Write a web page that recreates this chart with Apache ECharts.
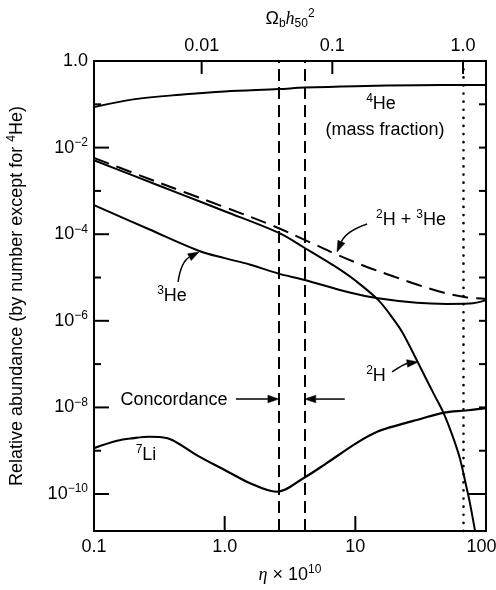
<!DOCTYPE html>
<html><head><meta charset="utf-8">
<script src="https://cdn.jsdelivr.net/npm/echarts@6/dist/echarts.min.js"></script>
<style>html,body{margin:0;padding:0;background:#fff}#c{width:496px;height:590px}</style>
</head><body><div id="c"></div>
<script>
const FONT = "'Liberation Sans', Arial, Helvetica, sans-serif";

// ---- axes ----
const etaRange = [0.1, 100];            // eta x 10^10
const yRange = [1.4e-11, 1];            // relative abundance
const omegaPerEta = 0.015;              // Omega_b h50^2 per unit eta_10
const bottomTickLabels = { '-1': '0.1', '0': '1.0', '1': '10', '2': '100' };
const topTickLabels = { '-2': '0.01', '-1': '0.1', '0': '1.0' };
const etaTicks = [1, 10];
const omegaTicks = [0.01, 0.1, 1];
const yTickExps = [0, -1, -2, -3, -4, -5, -6, -7, -8, -9, -10];
const concordance = [2.6, 4.1];
const omegaUnityEta = 1 / omegaPerEta;

// ---- curves [eta, abundance] ----
const he4 = [[0.1,0.086],[0.2,0.13],[0.5,0.17],[1,0.198],[2.6,0.225],[4.1,0.243],[10,0.262],[30,0.276],[68,0.28],[100,0.279]];
const dPlusHe3 = [[0.1,5.8e-3],[0.2,2.6e-3],[0.5,9.2e-4],[1,4.2e-4],[2.3,1.6e-4],[4.5,6.5e-5],[7.2,3.4e-5],[12,1.8e-5],[19.4,1.07e-5],[30,6.8e-6],[47,4.5e-6],[70,3.5e-6],[100,3.2e-6]];
const deuterium = [[0.1,5.1e-3],[0.2,2.26e-3],[0.5,7.7e-4],[1,3.4e-4],[2.6,1.07e-4],[4.1,4.8e-5],[7,1.8e-5],[10,8.5e-6],[15,3.0e-6],[20,1.0e-6],[23,5.3e-7],[30,1.12e-7],[40,2.0e-8],[47,7.8e-9],[55,2.36e-9],[63,6.8e-10],[70,1.7e-10],[75,6.6e-11],[82.5,1.4e-11]];
const he3 = [[0.1,4.7e-4],[0.264,1.3e-4],[0.64,4.1e-5],[1,2.8e-5],[1.55,2.0e-5],[2.58,1.23e-5],[4.03,8.9e-6],[9.06,4.5e-6],[14.9,3.3e-6],[29.6,2.6e-6],[50,2.45e-6],[75,2.5e-6],[100,3.0e-6]];
const li7 = [[0.1,1.15e-9],[0.15,1.7e-9],[0.2,1.95e-9],[0.264,2.1e-9],[0.33,2.05e-9],[0.4,1.75e-9],[0.64,7.3e-10],[1,3.6e-10],[1.55,1.8e-10],[2.5,1.13e-10],[4.03,2.35e-10],[6,5.1e-10],[10.2,1.5e-9],[15,2.8e-9],[21.9,4.0e-9],[30,5.2e-9],[46.9,7.5e-9],[70,8.5e-9],[100,9.6e-9]];

// ---- annotation arrows (data coordinates) ----
const arrows = [
  { from: [12.3, 1.72e-4], to: [7.24, 3.9e-5], bend: 0.22 },     // 2H + 3He
  { from: [0.44, 7.9e-6], to: [0.637, 3.9e-5], bend: -0.25 },    // 3He
  { from: [19.1, 6.6e-8], to: [30.2, 1.12e-7], bend: -0.12 },    // 2H
  { from: [1.22, 1.56e-8], to: [concordance[0], 1.56e-8], bend: 0 },
  { from: [8.3, 1.56e-8], to: [concordance[1], 1.56e-8], bend: 0 }
];

function decade(v) {
  const l = Math.log10(v);
  const e = Math.round(l);
  return Math.abs(l - e) < 0.01 ? e : null;
}
const supRich = {
  n: { fontSize: 18, lineHeight: 22, fontFamily: FONT, color: '#000' },
  s: { fontSize: 12, lineHeight: 12, verticalAlign: 'top', fontFamily: FONT, color: '#000' },
  b: { fontSize: 12, lineHeight: 12, verticalAlign: 'bottom', fontFamily: FONT, color: '#000' },
  i: { fontSize: 18, lineHeight: 22, fontStyle: 'italic', fontFamily: "'Liberation Serif', 'DejaVu Serif', serif", color: '#000' },
  r: { fontSize: 18, lineHeight: 22, fontFamily: FONT, color: '#000', padding: [0, 9, 0, 0] }
};
const blackLine = { color: '#000', width: 2 };
const noTick = { show: false };

const lineBase = { type: 'line', showSymbol: false, symbol: 'none', smooth: 0.35, silent: true };

const option = {
  animation: false,
  backgroundColor: '#fff',
  grid: { left: 94, right: 10, top: 61, bottom: 59, containLabel: false, outerBoundsMode: 'none' },
  xAxis: [
    {
      type: 'log', position: 'bottom', min: etaRange[0], max: etaRange[1],
      axisLine: { show: true, lineStyle: blackLine }, axisTick: noTick,
      axisLabel: {
        show: true, margin: 5, fontSize: 18, fontFamily: FONT, color: '#000', rich: supRich,
        formatter: v => { const e = decade(v); if (e === null || bottomTickLabels[e] === undefined) return ''; return e === 2 ? '{r|' + bottomTickLabels[e] + '}' : '{n|' + bottomTickLabels[e] + '}'; }
      },
      splitLine: { show: false },
      name: '{i|η}{n| × 10}{s|10}', nameLocation: 'middle', nameGap: 33, nameMoveOverlap: false,
      nameTextStyle: { fontSize: 18, fontFamily: FONT, color: '#000', rich: supRich }
    },
    {
      type: 'log', position: 'top', min: etaRange[0] * omegaPerEta, max: etaRange[1] * omegaPerEta,
      axisLine: { show: true, lineStyle: blackLine }, axisTick: noTick,
      axisLabel: {
        show: true, margin: 4, fontSize: 18, fontFamily: FONT, color: '#000', rich: supRich,
        formatter: v => { const e = decade(v); if (e === null || topTickLabels[e] === undefined) return ''; return '{n|' + topTickLabels[e] + '}'; }
      },
      splitLine: { show: false },
      name: '{n|Ω}{b|b}{i|h}{b|50}{s|2}', nameLocation: 'middle', nameGap: 31, nameMoveOverlap: false,
      nameTextStyle: { fontSize: 18, fontFamily: FONT, color: '#000', rich: supRich }
    }
  ],
  yAxis: [
    {
      type: 'log', logBase: 100, position: 'left', min: yRange[0], max: yRange[1],
      axisLine: { show: true, lineStyle: blackLine }, axisTick: noTick,
      axisLabel: {
        show: true, margin: 6, fontSize: 18, fontFamily: FONT, color: '#000', rich: supRich,
        formatter: v => { const e = decade(v); if (e === null) return ''; return e === 0 ? '{n|1.0}' : '{n|10}{s|−' + (-e) + '}'; }
      },
      splitLine: { show: false }, minorTick: { show: false },
      name: '{n|Relative abundance (by number except for }{s|4}{n|He)}', nameLocation: 'middle', nameGap: 66, nameMoveOverlap: false,
      nameTextStyle: { fontSize: 18, fontFamily: FONT, color: '#000', rich: supRich }
    },
    {
      type: 'log', logBase: 100, position: 'right', min: yRange[0], max: yRange[1],
      axisLine: { show: true, lineStyle: blackLine }, axisTick: noTick, axisLabel: { show: false },
      splitLine: { show: false }, minorTick: { show: false }
    }
  ],
  series: [
    Object.assign({}, lineBase, {
      name: '4He', data: he4, lineStyle: { color: '#000', width: 2 },
      markLine: {
        silent: true, symbol: 'none', animation: false, label: { show: false },
        data: [
          { xAxis: concordance[0], lineStyle: { color: '#000', width: 2, type: [12, 6] } },
          { xAxis: concordance[1], lineStyle: { color: '#000', width: 2, type: [12, 6] } },
          { xAxis: omegaUnityEta, lineStyle: { color: '#000', width: 2.6, type: [0.1, 8], cap: 'round' } }
        ]
      }
    }),
    Object.assign({}, lineBase, { name: '2H + 3He', data: dPlusHe3, lineStyle: { color: '#000', width: 2, type: [16, 8] } }),
    Object.assign({}, lineBase, { name: '2H', data: deuterium, lineStyle: { color: '#000', width: 2 } }),
    Object.assign({}, lineBase, { name: '3He', data: he3, lineStyle: { color: '#000', width: 2 } }),
    Object.assign({}, lineBase, { name: '7Li', data: li7, lineStyle: { color: '#000', width: 2.2 } })
  ]
};

const texts = [
  [381, 104, '{s|4}{n|He}'],
  [385, 130, '{n|(mass fraction)}'],
  [411, 220, '{s|2}{n|H + }{s|3}{n|He}'],
  [172, 296, '{s|3}{n|He}'],
  [376, 376, '{s|2}{n|H}'],
  [174, 400, '{n|Concordance}'],
  [146, 455, '{s|7}{n|Li}']
];

const chart = echarts.init(document.getElementById('c'));
chart.setOption(option);

const toPx = p => chart.convertToPixel({ seriesIndex: 0 }, p);
const g = [];
let gid = 0;
function tick(x1, y1, x2, y2) {
  g.push({ type: 'line', id: 'k' + (gid++), silent: true, shape: { x1: x1, y1: y1, x2: x2, y2: y2 }, style: { stroke: '#000', lineWidth: 2 } });
}
// axis ticks placed through the axes' scales
const leftX = toPx([etaRange[0], 1])[0], rightX = toPx([etaRange[1], 1])[0];
const topY = toPx([1, yRange[1]])[1], bottomY = toPx([1, yRange[0]])[1];
yTickExps.forEach(e => {
  const y = toPx([1, Math.pow(10, e)])[1];
  tick(leftX, y, leftX + (e % 2 === 0 ? 15 : 7), y);
  tick(rightX, y, rightX - (e === -10 ? 18 : 7), y);
});
etaTicks.forEach(v => { const x = toPx([v, 1])[0]; tick(x, bottomY, x, bottomY - 15); });
omegaTicks.forEach(o => { const x = toPx([o / omegaPerEta, 1])[0]; tick(x, topY, x, topY + 13); });

texts.forEach((t, i) => g.push({ type: 'text', id: 't' + i, x: t[0], y: t[1], silent: true,
  style: { text: t[2], rich: supRich, align: 'center', verticalAlign: 'middle', fill: '#000' } }));
arrows.forEach((a, i) => {
  const p0 = toPx(a.from), p1 = toPx(a.to);
  const dx = p1[0] - p0[0], dy = p1[1] - p0[1];
  const cx = (p0[0] + p1[0]) / 2 - dy * a.bend, cy = (p0[1] + p1[1]) / 2 + dx * a.bend;
  let tx = p1[0] - cx, ty = p1[1] - cy; const tl = Math.hypot(tx, ty); tx /= tl; ty /= tl;
  const hl = 11, hw = 3.8;
  const bx = p1[0] - tx * hl, by = p1[1] - ty * hl;
  g.push({ type: 'bezierCurve', id: 'al' + i, silent: true,
    shape: { x1: p0[0], y1: p0[1], x2: bx, y2: by, cpx1: cx, cpy1: cy },
    style: { stroke: '#000', lineWidth: 1.5, fill: 'none' } });
  g.push({ type: 'polygon', id: 'ah' + i, silent: true,
    shape: { points: [[p1[0], p1[1]], [bx - ty * hw, by + tx * hw], [bx + ty * hw, by - tx * hw]] },
    style: { fill: '#000', stroke: '#000', lineWidth: 0.5 } });
});
chart.setOption({ graphic: g });
</script></body></html>
